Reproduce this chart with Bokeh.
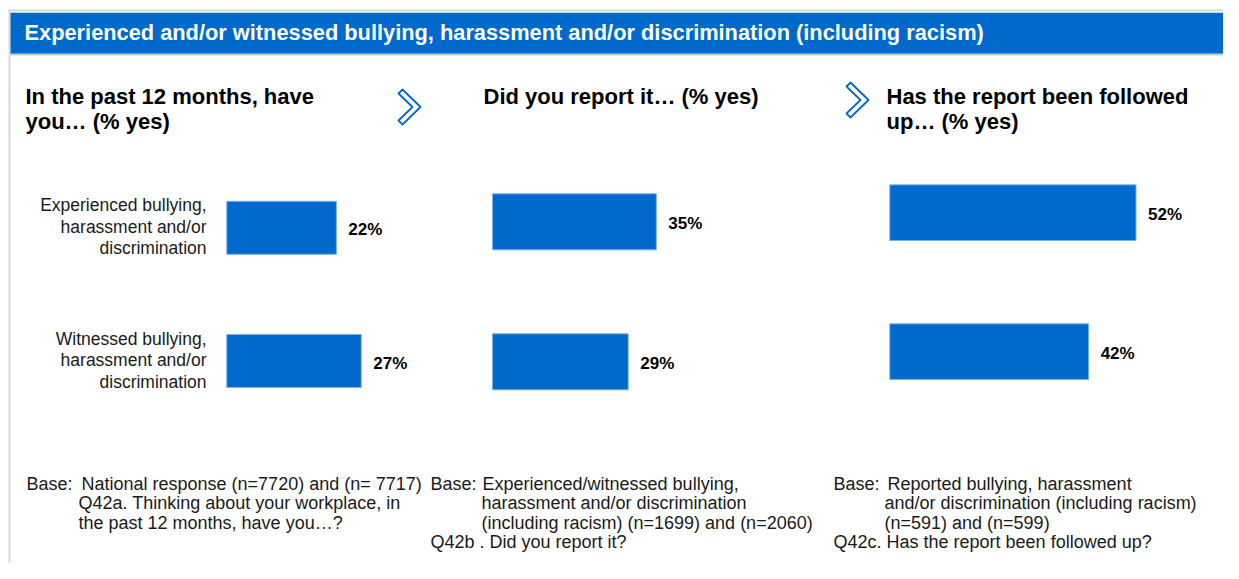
from bokeh.plotting import figure
from bokeh.models import Range1d
from bokeh.core.properties import value
from bokeh.embed import file_html
from bokeh.resources import INLINE

# ---------------- data ----------------
TITLE = "Experienced and/or witnessed bullying, harassment and/or discrimination (including racism)"
category_lines = [
    ["Experienced bullying,", "harassment and/or", "discrimination"],
    ["Witnessed bullying,", "harassment and/or", "discrimination"],
]
past_12_months = [22, 27]      # % yes
reported_it = [35, 29]         # % yes
followed_up = [52, 42]         # % yes
panel_titles = [
    ["In the past 12 months, have", "you… (% yes)"],
    ["Did you report it… (% yes)"],
    ["Has the report been followed", "up… (% yes)"],
]
footnote_col1 = ["Base:", "National response (n=7720) and (n= 7717)",
                 "Q42a. Thinking about your workplace, in", "the past 12 months, have you…?"]
footnote_col2 = ["Base:", "Experienced/witnessed bullying,", "harassment and/or discrimination",
                 "(including racism) (n=1699) and (n=2060)", "Q42b . Did you report it?"]
footnote_col3 = ["Base:", "Reported bullying, harassment", "and/or discrimination (including racism)",
                 "(n=591) and (n=599)", "Q42c. Has the report been followed up?"]

# ---------------- styling / layout ----------------
W, H = 1223, 563
BLUE = "#0069CC"
GREY = "#D9D9D9"
FONT = "Liberation Sans"

p = figure(width=W, height=H, x_range=Range1d(0, W), y_range=Range1d(H, 0),
           output_backend="svg", toolbar_location=None, min_border=0,
           x_axis_location=None, y_axis_location=None)
p.grid.visible = False
p.outline_line_color = None
p.background_fill_color = "white"
p.border_fill_color = "white"

# frame borders and header
p.quad(left=[8, 8], right=[10, W], top=[9, 9], bottom=[H, 11], fill_color=GREY, line_color=None)
p.quad(left=[10], right=[W], top=[12.3], bottom=[53.3], fill_color=BLUE, line_color=None)
p.quad(left=[10], right=[W], top=[53.3], bottom=[55], fill_color="#C8C8C8", line_color=None)
p.text(x=[24], y=[32.3], text=[TITLE], text_color="white", text_font=value(FONT),
       text_font_style="bold", text_font_size="21.8px", text_baseline="middle", text_align="left")

# panel headings
head_x = [25, 483, 886]
for hx, lines in zip(head_x, panel_titles):
    p.text(x=[hx] * len(lines), y=[95.5 + 25.3 * i for i in range(len(lines))], text=lines,
           text_color="black", text_font=value(FONT), text_font_style="bold", text_font_size="22px",
           text_baseline="middle", text_align="left")

# chevrons
chev = [(398, 93), (402, 89), (420, 106.5), (402, 124), (398, 120), (412, 106.5)]
for dx, dy in [(0, 0), (448, -7)]:
    p.patch(x=[a + dx for a, b in chev], y=[b + dy for a, b in chev],
            fill_color=None, line_color=BLUE, line_width=1.8, line_join="round")

# panels: (name, values, origin x, px per %, bar centers y, bar height)
panels = [
    ("p1", past_12_months, 226.3, 4.98, [227.3, 360.5], 53.0),
    ("p2", reported_it, 492.0, 4.68, [221.3, 361.3], 56.0),
    ("p3", followed_up, 889.3, 4.735, [212.2, 351.2], 55.7),
]
for name, vals, x0, scale, ys, bh in panels:
    p.extra_x_ranges[name] = Range1d(-x0 / scale, (W - x0) / scale)
    p.hbar(y=ys, left=0, right=vals, height=bh, x_range_name=name,
           fill_color=BLUE, line_color="#7DB0E6", line_width=1)
    p.text(x=vals, y=[y + 2 for y in ys], text=[f"{v}%" for v in vals], x_range_name=name,
           x_offset=12, text_color="black", text_font=value(FONT), text_font_style="bold",
           text_font_size="17px", text_baseline="middle", text_align="left")
    if name == "p1":
        for yc, lines in zip(ys, category_lines):
            p.text(x=[206] * 3, y=[yc - 1 + 21.5 * k for k in (-1, 0, 1)], text=lines,
                   text_color="#1a1a1a", text_font=value(FONT), text_font_size="17.5px",
                   text_baseline="middle", text_align="right")

# footnotes
line_y = [483, 502.5, 522, 541.5]
foot_items = [
    (26, 0, footnote_col1[0]), (81, 0, footnote_col1[1]), (78, 1, footnote_col1[2]), (78, 2, footnote_col1[3]),
    (430, 0, footnote_col2[0]), (482, 0, footnote_col2[1]), (481, 1, footnote_col2[2]),
    (481, 2, footnote_col2[3]), (430, 3, footnote_col2[4]),
    (833, 0, footnote_col3[0]), (887, 0, footnote_col3[1]), (884, 1, footnote_col3[2]),
    (884, 2, footnote_col3[3]), (833, 3, footnote_col3[4]),
]
p.text(x=[a for a, _, _ in foot_items], y=[line_y[i] for _, i, _ in foot_items],
       text=[t for _, _, t in foot_items], text_color="#1a1a1a", text_font=value(FONT),
       text_font_size="18px", text_baseline="middle", text_align="left")

open("out.html", "w").write(file_html(p, INLINE))
